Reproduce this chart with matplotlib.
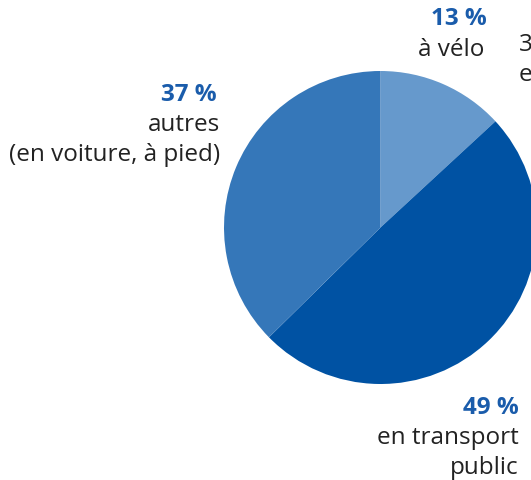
import matplotlib.pyplot as plt

# share of trips by mode (%)
labels = ["à vélo", "en transport\npublic", "autres\n(en voiture, à pied)"]
values = [13, 49, 37]
colors = ["#6699cc", "#0052a3", "#3577b9"]
pct_text = ["13 %", "49 %", "37 %"]

W, H = 531, 481
blue = "#1a5cab"
plt.rcParams['font.family'] = ['Open Sans', 'DejaVu Sans']

fig = plt.figure(figsize=(W / 100, H / 100), dpi=100)
ax = fig.add_axes([0, 0, 1, 1])

cx, cy, r = 380.5, H - 228.5, 156.5
ax.pie(values, colors=colors, startangle=90, counterclock=False,
       center=(cx, cy), radius=r, frame=True,
       wedgeprops=dict(linewidth=0))
ax.set_xlim(0, W)
ax.set_ylim(0, H)
ax.set_aspect('equal')
ax.axis('off')

fs = 17.5
ink = '#222222'
# 13 % a velo
ax.text(459, H - 19, pct_text[0], color=blue, fontsize=fs, fontweight='bold',
        ha='center', va='center')
ax.text(451, H - 50, labels[0], color=ink, fontsize=fs,
        ha='center', va='center')
# 37 % autres
ax.text(217, H - 95, pct_text[2], color=blue, fontsize=fs, fontweight='bold',
        ha='right', va='center')
ax.text(220, H - 125, "autres", color=ink, fontsize=fs,
        ha='right', va='center')
ax.text(220, H - 155, "(en voiture, à pied)", color=ink, fontsize=fs,
        ha='right', va='center')
# 49 % transport public
ax.text(519, H - 408, pct_text[1], color=blue, fontsize=fs, fontweight='bold',
        ha='right', va='center')
ax.text(519, H - 438, "en transport", color=ink, fontsize=fs,
        ha='right', va='center')
ax.text(519, H - 468, "public", color=ink, fontsize=fs,
        ha='right', va='center')
# label cut by the right edge, as in the source
ax.text(519, H - 45, "3 %", color=ink, fontsize=fs, ha='left', va='center')
ax.text(519, H - 75, "en", color=ink, fontsize=fs, ha='left', va='center')

fig.savefig('out.png', dpi=100)
